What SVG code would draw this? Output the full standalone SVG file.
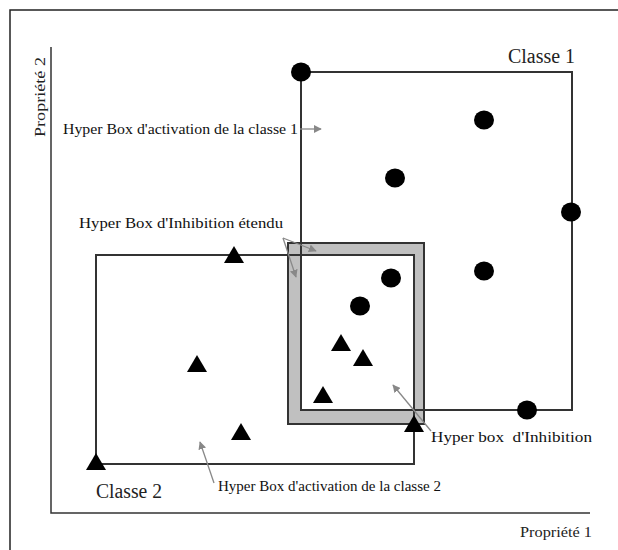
<svg xmlns="http://www.w3.org/2000/svg" width="618" height="550" viewBox="0 0 618 550">
  <style>
    .frame { fill: none; stroke: #222; stroke-width: 1.5; }
    .box { fill: none; stroke: #333; stroke-width: 2; }
    .axis { fill: none; stroke: #333; stroke-width: 1.5; }
    .pt { fill: #000; }
    .lbl { font-family: "Liberation Serif", "DejaVu Serif", serif; font-size: 15px; fill: #111; }
    .cls { font-family: "Liberation Serif", "DejaVu Serif", serif; font-size: 20px; fill: #222; }
    .ax { font-family: "Liberation Serif", "DejaVu Serif", serif; font-size: 15px; fill: #222; }
    .ptr { fill: none; stroke: #888; stroke-width: 1.3; marker-end: url(#head); }
  </style>
  <defs>
    <marker id="head" viewBox="0 0 10 10" refX="9" refY="5" markerWidth="8" markerHeight="8" markerUnits="userSpaceOnUse" orient="auto">
      <path d="M0,0 L10,5 L0,10 z" fill="#888"/>
    </marker>
    <path id="tri" d="M0,-9 L10,8 L-10,8 z"/>
  </defs>
  <rect width="618" height="550" fill="#fff"/>

  <!-- outer frame -->
  <path class="frame" d="M10,550 V10 H618"/>

  <!-- axes -->
  <g id="axes">
    <path class="axis" d="M51,47 V513 H590"/>
    <text class="ax" x="520" y="537" textLength="72" lengthAdjust="spacingAndGlyphs">Propriété 1</text>
    <text class="ax" transform="translate(45,137) rotate(-90)" textLength="80" lengthAdjust="spacingAndGlyphs">Propriété 2</text>
  </g>

  <!-- extended inhibition box (grey band) -->
  <g id="inhibition-extended">
    <path d="M288,243 H424 V424 H288 z M301,255 V410 H414 V255 z" fill="#c0c0c0" fill-rule="evenodd"/>
    <rect x="288" y="243" width="136" height="181" class="box"/>
  </g>

  <!-- class 1 activation box -->
  <g id="classe1-box">
    <rect x="301" y="72" width="271" height="338" class="box"/>
  </g>

  <!-- class 2 activation box -->
  <g id="classe2-box">
    <rect x="96" y="255" width="318" height="209" class="box"/>
  </g>

  <!-- class 1 samples -->
  <g id="classe1-points" class="pt">
    <ellipse cx="301" cy="72" rx="10" ry="9.5"/>
    <ellipse cx="484" cy="120" rx="10" ry="9.5"/>
    <ellipse cx="395" cy="178" rx="10" ry="9.5"/>
    <ellipse cx="571" cy="212" rx="10" ry="9.5"/>
    <ellipse cx="484" cy="271" rx="10" ry="9.5"/>
    <ellipse cx="391" cy="278" rx="10" ry="9.5"/>
    <ellipse cx="360" cy="306" rx="10" ry="9.5"/>
    <ellipse cx="527" cy="410" rx="10" ry="9.5"/>
  </g>

  <!-- class 2 samples -->
  <g id="classe2-points" class="pt">
    <use href="#tri" x="234" y="255"/>
    <use href="#tri" x="197" y="364"/>
    <use href="#tri" x="241" y="432"/>
    <use href="#tri" x="96" y="462"/>
    <use href="#tri" x="341" y="343"/>
    <use href="#tri" x="363" y="358"/>
    <use href="#tri" x="323" y="395"/>
    <use href="#tri" x="414" y="424"/>
  </g>

  <!-- labels -->
  <g id="labels">
    <text class="cls" x="508" y="63" textLength="67" lengthAdjust="spacingAndGlyphs">Classe 1</text>
    <text class="cls" x="96" y="498" textLength="66" lengthAdjust="spacingAndGlyphs">Classe 2</text>
    <text class="lbl" x="63" y="134" textLength="235" lengthAdjust="spacingAndGlyphs">Hyper Box d'activation de la classe 1</text>
    <text class="lbl" x="79" y="228" textLength="204" lengthAdjust="spacingAndGlyphs">Hyper Box d'Inhibition étendu</text>
    <text class="lbl" x="431" y="442" textLength="161" lengthAdjust="spacingAndGlyphs" xml:space="preserve">Hyper box  d'Inhibition</text>
    <text class="lbl" x="218" y="491" textLength="223" lengthAdjust="spacingAndGlyphs">Hyper Box d'activation de la classe 2</text>
  </g>

  <!-- pointers -->
  <g id="connectors">
    <path class="ptr" d="M300,129 H321"/>
    <path class="ptr" d="M283,238 L316,251"/>
    <path class="ptr" d="M283,238 L296,277"/>
    <path class="ptr" d="M431,431 L393,385"/>
    <path class="ptr" d="M214,483 L200,442"/>
  </g>
</svg>
